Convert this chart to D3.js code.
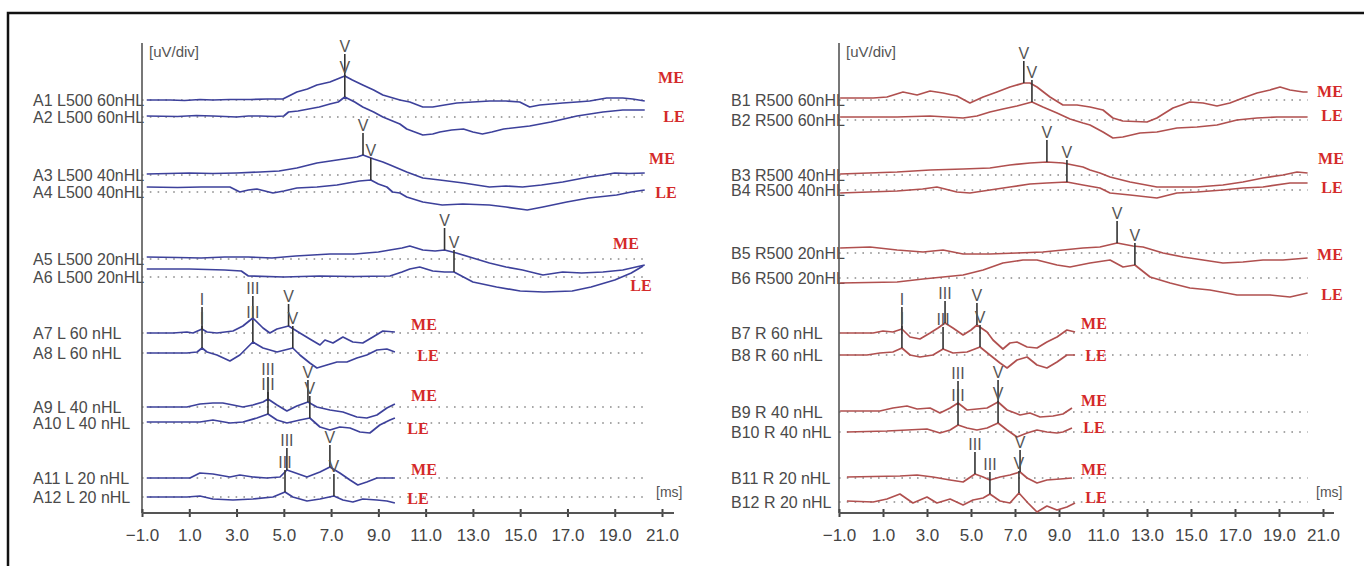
<!DOCTYPE html>
<html><head><meta charset="utf-8">
<script src="https://cdn.jsdelivr.net/npm/d3@7"></script>
<style>body{margin:0;background:#fff}svg{display:block}</style>
</head><body>
<svg id="c" width="1364" height="566"></svg>
<script>
// ---------- DATA ----------
const tickValues = [-1,1,3,5,7,9,11,13,15,17,19,21];
const dottedEnd = 20.3;

const labelsA = ["A1 L500 60nHL","A2 L500 60nHL","A3 L500 40nHL","A4 L500 40nHL","A5 L500 20nHL","A6 L500 20nHL","A7 L 60 nHL","A8 L 60 nHL","A9 L 40 nHL","A10 L 40 nHL","A11 L 20 nHL","A12 L 20 nHL"];
const labelsB = ["B1 R500 60nHL","B2 R500 60nHL","B3 R500 40nHL","B4 R500 40nHL","B5 R500 20nHL","B6 R500 20nHL","B7 R 60 nHL","B8 R 60 nHL","B9 R 40 nHL","B10 R 40 nHL","B11 R 20 nHL","B12 R 20 nHL"];
const earTags = ["ME","LE","ME","LE","ME","LE","ME","LE","ME","LE","ME","LE"];

// waveforms: [latency ms, amplitude]
const A1 = [[-0.8,0],[0.2,0],[0.8,-0.05],[1.45,0.05],[2.0,0],[2.7,0.05],[3.6,0.05],[4.3,0.1],[4.96,0.1],[5.55,0.8],[6.0,1.1],[6.4,1.5],[6.95,1.8],[7.58,2.4],[7.9,2.0],[8.34,1.5],[8.8,1.0],[9.19,0.5],[9.91,0],[10.33,-0.2],[10.88,-0.7],[11.3,-0.7],[11.8,-0.5],[12.32,-0.3],[13.0,-0.2],[13.71,-0.1],[14.4,-0.1],[14.98,-0.2],[15.4,-0.7],[15.83,-0.5],[16.8,-0.3],[17.4,-0.2],[17.94,-0.1],[18.66,0.2],[19.34,0.2],[19.76,0.1],[20.27,-0.1]];
const A2 = [[-0.8,0.1],[0.5,0.05],[1.3,0.15],[2.0,0.1],[3.0,0],[3.5,0.1],[4.0,0.1],[4.6,0.05],[5.0,0.1],[5.2,0.5],[5.6,0.6],[6.05,0.8],[6.5,1.0],[6.95,1.3],[7.3,1.5],[7.58,2.0],[8.0,1.5],[8.34,1.0],[8.8,0.5],[9.19,0],[9.91,-0.7],[10.2,-1.2],[10.88,-1.8],[11.3,-1.7],[11.6,-1.5],[12.1,-1.3],[12.6,-1.2],[13.0,-1.5],[13.4,-1.7],[13.8,-1.5],[14.3,-1.2],[15.4,-0.9],[16.3,-0.5],[17.4,0.1],[18.5,0.5],[19.34,0.7],[20.27,0.7]];
const A3 = [[-0.8,0.1],[1.0,0.2],[2.0,0.15],[3.0,0.2],[4.0,0.3],[4.8,0.4],[5.55,0.7],[6.4,1.2],[7.25,1.5],[8.1,1.8],[8.35,2.0],[8.8,1.6],[9.19,1.3],[9.5,1.0],[10.2,0.3],[10.88,-0.3],[11.6,-0.5],[12.6,-0.8],[13.7,-1.2],[14.4,-1.1],[15.1,-1.2],[15.9,-1.0],[16.8,-0.7],[17.9,-0.2],[18.5,0],[19.0,0.2],[19.6,0.15],[20.27,0.2]];
const A4 = [[-0.8,0.5],[0.5,0.45],[1.5,0.5],[2.72,0.5],[3.14,0],[3.5,0.2],[3.86,0.3],[4.54,-0.1],[5.0,0.1],[5.55,0.4],[6.4,0.5],[7.25,0.7],[8.2,1.1],[8.68,1.2],[9.0,0.8],[9.36,0.5],[9.6,0],[9.91,-0.1],[10.2,-0.5],[10.88,-1.0],[11.7,-1.3],[12.57,-1.2],[13.7,-1.3],[14.4,-1.5],[15.3,-1.8],[15.96,-1.5],[16.97,-1.0],[17.9,-0.6],[19.08,-0.3],[19.7,0],[20.27,0.2]];
const A5 = [[-0.8,0.2],[0.5,0.15],[1.5,0.1],[2.5,0.2],[3.5,0.2],[4.5,0.1],[5.5,0.3],[6.95,0.5],[8.0,0.5],[9.0,0.7],[9.49,0.9],[10.0,1.1],[10.33,1.3],[10.88,0.9],[11.4,0.8],[11.8,0.9],[12.3,0.6],[13.0,0.1],[13.7,-0.4],[14.4,-0.8],[15.1,-1.1],[15.96,-1.6],[16.8,-1.3],[17.6,-1.4],[18.5,-1.3],[19.34,-1.1],[20.27,-0.6]];
const A6 = [[-0.8,0.8],[1.0,0.8],[2.5,0.7],[3.2,0.6],[3.5,0.1],[5.0,0],[6.5,0.1],[8.0,0.05],[9.49,0.1],[10.0,0.5],[10.33,0.8],[10.75,1.0],[11.3,0.6],[11.8,0.5],[12.2,0.5],[12.6,0],[13.0,-0.5],[14.0,-1.0],[15.0,-1.4],[16.0,-1.5],[17.2,-1.4],[18.0,-1.0],[19.0,-0.3],[19.7,0.4],[20.2,1.1]];
const A7 = [[-0.8,0],[0.31,0],[0.9,0.1],[1.16,0],[1.54,0.4],[1.75,0.1],[2.17,0],[2.85,0.2],[3.27,0.7],[3.69,1.5],[4.12,0.5],[4.41,0],[4.71,0.4],[5.2,0.7],[5.68,0],[6.1,-0.6],[6.53,-1.2],[6.74,-0.7],[7.08,-1.0],[7.5,-0.4],[7.92,-0.9],[8.34,-1.0],[8.77,-0.4],[9.19,0.2],[9.7,0.1]];
const A8 = [[-0.8,0],[0.9,0],[1.33,0.1],[1.54,0.5],[1.75,0.1],[2.17,-0.2],[2.72,-0.8],[3.14,-0.2],[3.69,1.1],[4.12,0.5],[4.71,0.1],[5.38,0.5],[5.68,-0.2],[6.1,-1.0],[6.4,-1.5],[6.82,-1.2],[7.25,-0.9],[7.67,-0.9],[8.09,-0.5],[8.51,-0.2],[8.94,0.3],[9.36,0.4],[9.7,0.1]];
const A9 = [[-0.8,0],[0.9,0],[1.45,0.3],[2.0,0.4],[2.42,0.4],[2.85,0.2],[3.27,0],[3.69,0.2],[4.12,0.5],[4.33,0.8],[4.71,0.2],[5.13,-0.4],[5.55,0.1],[6.02,0.5],[6.4,0],[6.95,-0.3],[7.5,-0.5],[8.09,-1.0],[8.51,-1.1],[8.94,-0.8],[9.36,-0.1],[9.7,0.3]];
const A10 = [[-0.8,0.1],[1.45,0.1],[2.0,0.3],[2.72,0],[3.27,0.1],[3.86,0.5],[4.33,0.9],[4.71,0.3],[5.13,0],[5.68,0.3],[6.1,0.5],[6.53,-0.4],[6.95,-0.7],[7.37,-0.4],[7.8,-0.5],[8.22,-0.9],[8.64,-1.0],[9.06,-0.2],[9.49,0.3],[9.7,0.5]];
const A11 = [[-0.8,0],[1.03,0],[1.45,0.5],[2.0,0.4],[2.72,0.1],[3.14,0.3],[3.69,0.1],[4.28,0],[4.84,0.1],[5.13,0.8],[5.38,0.6],[5.98,0.1],[6.53,0.6],[6.95,1.1],[7.37,0.5],[7.8,-0.2],[8.13,-0.7],[8.51,-0.4],[8.94,0],[9.7,0]];
const A12 = [[-0.8,0],[0.9,0],[1.45,0.1],[2.0,-0.2],[2.85,-0.3],[3.69,-0.2],[4.54,0],[5.05,0.5],[5.38,0],[5.98,-0.4],[6.53,-0.2],[7.12,0.1],[7.5,-0.3],[7.92,-0.5],[8.34,-0.2],[8.94,-0.3],[9.36,-0.4],[9.7,-0.6]];

const B1 = [[-0.95,0.2],[0.55,0.2],[1.18,0.3],[1.91,0.8],[2.55,0.5],[3.14,0.9],[3.73,0.7],[4.36,0.4],[4.95,-0.3],[5.55,0.3],[6.18,0.8],[6.77,1.3],[7.4,1.7],[7.68,1.7],[8.0,1.3],[8.59,0.3],[9.18,-0.5],[9.82,-0.5],[10.41,-0.7],[11.0,-1.0],[11.45,-1.8],[11.9,-2.1],[13.0,-2.2],[13.45,-1.8],[14.18,-0.8],[14.95,-0.2],[15.55,-0.3],[16.18,-0.6],[16.77,-0.3],[17.36,0.2],[18.0,0.7],[18.59,1.0],[19.05,1.3],[19.5,1.0],[20.1,0.8],[20.3,0.8]];
const B2 = [[-0.95,0.3],[1.64,0.3],[3.14,0.4],[4.64,0.2],[5.27,0.4],[5.86,0.8],[6.45,1.1],[7.09,1.4],[7.77,1.8],[8.27,1.3],[8.91,0.7],[9.5,0.1],[10.09,-0.3],[10.41,-0.5],[11.0,-1.2],[11.45,-1.8],[11.9,-1.7],[12.68,-1.3],[13.45,-1.2],[14.36,-0.8],[15.27,-0.7],[16.18,-0.5],[17.09,0],[18.0,0.2],[18.9,0.3],[20.3,0.3]];
const B3 = [[-0.95,0.1],[1.64,0.3],[3.14,0.5],[4.64,0.6],[5.86,0.7],[6.77,1.0],[7.68,1.2],[8.45,1.3],[9.18,1.2],[10.09,0.8],[10.41,0.5],[10.86,0.2],[11.32,-0.2],[12.23,-0.7],[13.45,-1.2],[14.36,-1.2],[15.27,-1.2],[16.45,-1.0],[17.36,-0.7],[18.27,-0.3],[19.18,0],[19.82,0.3],[20.3,0.2]];
const B4 = [[-0.95,-0.3],[1.64,-0.1],[2.8,0.1],[3.45,0.3],[4.36,-0.2],[4.95,-0.3],[5.86,0],[6.77,0.3],[7.68,0.6],[8.45,0.7],[9.36,0.8],[10.09,0.5],[10.86,0.2],[11.32,-0.3],[12.23,-0.5],[13.45,-0.8],[14.36,-0.3],[15.27,-0.2],[16.45,0],[17.36,0.2],[18.27,0.3],[19.5,0.7],[20.3,0.7]];
const B5 = [[-0.95,0.5],[0.41,0.6],[1.64,0.3],[2.82,0.1],[3.73,0.3],[4.64,-0.1],[5.86,-0.1],[7.09,0],[8.27,0.1],[9.18,0.3],[10.09,0.5],[10.86,0.6],[11.64,1.0],[12.36,0.7],[12.82,0.6],[13.73,0],[14.64,-0.4],[15.55,-0.7],[16.45,-1.0],[17.36,-0.9],[18.27,-0.7],[19.18,-0.7],[20.3,-0.5]];
const B6 = [[-0.95,-0.5],[1.64,-0.4],[2.82,-0.1],[3.73,0.1],[4.64,0.3],[5.55,0.8],[6.45,1.5],[7.36,1.8],[8.0,1.8],[8.91,1.3],[9.5,1.1],[10.41,1.5],[11.32,1.8],[11.91,1.1],[12.45,1.3],[13.14,0.1],[14.05,-0.5],[14.95,-1.0],[15.86,-1.2],[17.09,-1.7],[18.59,-1.7],[19.5,-1.9],[20.3,-1.5]];
const B7 = [[-0.95,0],[0.55,0],[1.0,0.2],[1.45,0.1],[1.86,0.4],[2.23,-0.4],[2.68,-0.6],[3.14,0],[3.5,0.5],[3.82,1.0],[4.18,0.5],[4.64,-0.2],[5.0,0.3],[5.27,0.8],[5.73,0.1],[6.0,-0.7],[6.45,-1.6],[6.77,-1.0],[7.09,-0.9],[7.55,-1.4],[8.0,-1.5],[8.45,-0.9],[8.91,-0.4],[9.36,0.3],[9.73,0.1]];
const B8 = [[-0.95,0],[0.27,0],[0.86,0.2],[1.45,0.3],[1.86,0.7],[2.23,0],[2.68,-0.2],[3.27,0],[3.73,0.6],[4.18,0.2],[4.82,0.3],[5.41,0.8],[5.86,0],[6.32,-0.8],[6.64,-1.3],[7.09,-0.5],[7.55,-0.2],[8.0,-1.0],[8.45,-1.3],[8.91,-0.7],[9.36,0],[9.73,0]];
const B9 = [[-0.95,0.1],[0.86,0.1],[1.45,0.4],[2.09,0.6],[2.55,0.3],[3.14,0.4],[3.59,-0.1],[4.05,0.4],[4.41,0.9],[4.82,0.2],[5.27,0.3],[5.73,0.4],[6.23,1.0],[6.64,0.2],[7.23,-0.3],[7.68,-0.1],[8.14,-0.5],[8.73,-0.4],[9.18,-0.2],[9.59,0.4]];
const B10 = [[-0.64,0],[1.18,0.1],[2.09,0.2],[3.0,0.3],[3.59,-0.1],[4.05,0.2],[4.41,0.7],[4.82,0.4],[5.27,0.2],[5.73,0.4],[6.23,0.9],[6.64,0.2],[7.09,-0.5],[7.55,-0.1],[8.0,0.2],[8.45,0],[8.91,-0.1],[9.18,0],[9.59,0.4]];
const B11 = [[-0.64,0.1],[1.77,0.2],[2.55,0.3],[3.27,0.1],[4.05,-0.2],[4.64,-0.4],[5.18,0.4],[5.55,0.1],[5.86,-0.2],[6.32,0.1],[6.77,0.3],[7.23,0.6],[7.55,0],[8.0,-0.5],[8.45,-0.2],[9.05,-0.1],[9.59,0]];
const B12 = [[-0.64,0.1],[0.55,0],[1.18,0.3],[1.77,0.8],[2.36,-0.1],[3.0,0.5],[3.45,-0.1],[4.05,0.3],[4.64,-0.3],[5.09,0.2],[5.55,0.4],[5.86,0.8],[6.32,0.1],[6.77,-0.1],[7.18,0.9],[7.59,-0.1],[8.0,-1.0],[8.45,-0.4],[8.91,-0.8],[9.36,-0.5],[9.73,-0.1]];

const wavesA = [A1,A2,A3,A4,A5,A6,A7,A8,A9,A10,A11,A12];
const wavesB = [B1,B2,B3,B4,B5,B6,B7,B8,B9,B10,B11,B12];

// peak markers: [wave name, latency ms]
const peaksA = [
  [["V",7.58]],[["V",7.58]],[["V",8.35]],[["V",8.68]],[["V",11.8]],[["V",12.2]],
  [["I",1.54],["III",3.69],["V",5.2]],[["I",1.54],["III",3.69],["V",5.38]],
  [["III",4.33],["V",6.02]],[["III",4.33],["V",6.1]],
  [["III",5.13],["V",6.95]],[["III",5.05],["V",7.12]]
];
const peaksB = [
  [["V",7.4]],[["V",7.77]],[["V",8.45]],[["V",9.36]],[["V",11.64]],[["V",12.45]],
  [["I",1.86],["III",3.82],["V",5.27]],[["I",1.86],["III",3.73],["V",5.41]],
  [["III",4.41],["V",6.23]],[["III",4.41],["V",6.23]],
  [["III",5.18],["V",7.23]],[["III",5.86],["V",7.18]]
];

// ---------- LAYOUT ----------
const panels = [
  {waves:wavesA, peaks:peaksA, labels:labelsA, color:"#3d419b",
   xRange:[142,662], axisEnd:674, labelX:33,
   base:[100,117,175,192,259,277,333,353,407,423,478,497],
   tagPos:[[671,77],[674,116],[662,158],[666,192],[626,243],[641,285],[424,324],[428,355],[424,395],[418,428],[424,469],[418,498]],
   msX:656},
  {waves:wavesB, peaks:peaksB, labels:labelsB, color:"#b0504f",
   xRange:[839,1323], axisEnd:1334, labelX:731,
   base:[100,120,175,190,253,278,333,355,412,432,478,502],
   tagPos:[[1330,91],[1332,115],[1331,158],[1332,187],[1330,254],[1332,294],[1094,323],[1096,355],[1094,400],[1094,427],[1094,469],[1096,497]],
   msX:1316}
];
const axisY = 513, axisTop = 43;

const svg = d3.select("#c");
svg.append("rect").attr("x",8).attr("y",13).attr("width",1400).attr("height",600)
  .attr("fill","none").attr("stroke","#111").attr("stroke-width",2.5);

const amp = d3.scaleLinear().domain([0,1]).range([0,-10]);

panels.forEach(p => {
  const x = d3.scaleLinear().domain([-1,21]).range(p.xRange);
  const g = svg.append("g");

  // baselines (dotted)
  p.base.forEach(b => {
    g.append("line").attr("x1",x(-1)).attr("x2",x(dottedEnd)).attr("y1",b).attr("y2",b)
      .attr("stroke","#8a8a8a").attr("stroke-width",1.6).attr("stroke-dasharray","1.6 6.2");
  });

  // channel labels
  p.labels.forEach((t,i) => {
    g.append("text").attr("x",p.labelX).attr("y",p.base[i]).attr("dy","0.36em")
      .attr("font-family","Liberation Sans, Arial, sans-serif").attr("font-size",16)
      .attr("fill","#4a4a4a").text(t);
  });

  // y axis
  g.append("line").attr("x1",x(-1)).attr("x2",x(-1)).attr("y1",axisTop).attr("y2",axisY)
    .attr("stroke","#555").attr("stroke-width",1.6);
  g.append("text").attr("x",x(-1)+7).attr("y",57)
    .attr("font-family","Liberation Sans, Arial, sans-serif").attr("font-size",15)
    .attr("fill","#555").text("[uV/div]");

  // x axis
  const ax = g.append("g").attr("transform",`translate(0,${axisY})`)
    .call(d3.axisBottom(x).tickValues(tickValues).tickSize(0).tickPadding(16).tickFormat(d3.format(".1f")));
  ax.select(".domain").remove();
  ax.append("line").attr("x1",x(-1)).attr("x2",p.axisEnd).attr("stroke","#555").attr("stroke-width",2);
  ax.selectAll(".tick").append("line").attr("y1",-4).attr("y2",4).attr("stroke","#444").attr("stroke-width",2);
  ax.selectAll(".tick text").attr("font-family","Liberation Sans, Arial, sans-serif")
    .attr("font-size",17).attr("fill","#444");
  g.append("text").attr("x",p.msX).attr("y",492).attr("dy","0.35em")
    .attr("font-family","Liberation Sans, Arial, sans-serif").attr("font-size",14)
    .attr("fill","#555").text("[ms]");

  // waves
  p.waves.forEach((w,i) => {
    const b = p.base[i];
    const line = d3.line().x(d => x(d[0])).y(d => b + amp(d[1]));
    g.append("path").attr("d",line(w)).attr("fill","none")
      .attr("stroke",p.color).attr("stroke-width",1.7).attr("stroke-linejoin","round");
  });

  // peak markers
  p.waves.forEach((w,i) => {
    const b = p.base[i];
    const interp = d3.scaleLinear().domain(w.map(d=>d[0])).range(w.map(d=>d[1]));
    p.peaks[i].forEach(([lab,ms]) => {
      const px = x(ms), py = b + amp(interp(ms));
      g.append("line").attr("x1",px).attr("x2",px).attr("y1",py-22).attr("y2",py)
        .attr("stroke","#333").attr("stroke-width",1.6);
      g.append("text").attr("x",px).attr("y",py-30).attr("dy","0.35em").attr("text-anchor","middle")
        .attr("font-family","Liberation Sans, Arial, sans-serif").attr("font-size",16)
        .attr("fill","#555").text(lab);
    });
  });

  // ear tags
  earTags.forEach((t,i) => {
    g.append("text").attr("x",p.tagPos[i][0]).attr("y",p.tagPos[i][1]).attr("dy","0.35em")
      .attr("text-anchor","middle").attr("font-family","Liberation Serif, Times New Roman, serif")
      .attr("font-weight","bold").attr("font-size",16).attr("fill","#d42a2a").text(t);
  });
});
</script>
</body></html>
